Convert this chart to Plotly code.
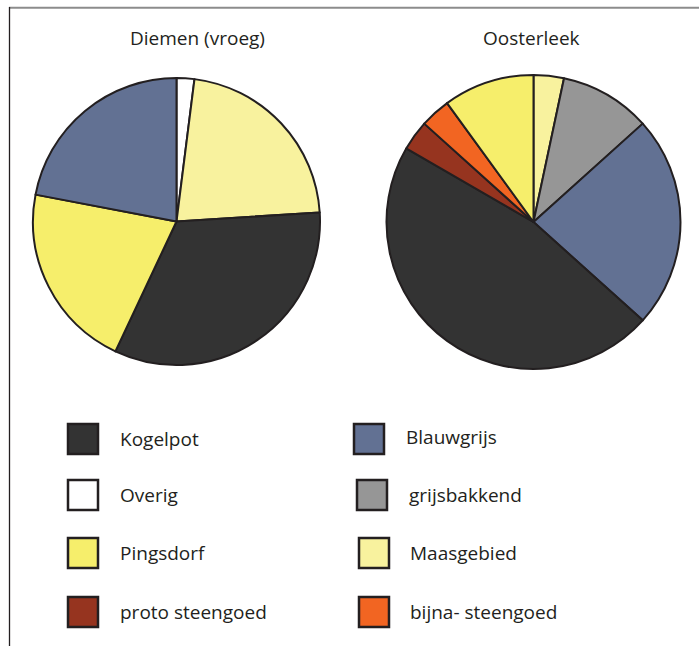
import plotly.graph_objects as go

# ---- data ----
diemen_labels = ["Overig", "Maasgebied", "Kogelpot", "Pingsdorf", "Blauwgrijs"]
diemen_values = [2, 22, 33, 21, 22]

oosterleek_labels = ["Maasgebied", "grijsbakkend", "Blauwgrijs", "Kogelpot",
                     "proto steengoed", "bijna- steengoed", "Pingsdorf"]
oosterleek_values = [3.33, 10.0, 23.33, 46.67, 3.33, 3.33, 10.0]

titles = ["Diemen (vroeg)", "Oosterleek"]

legend_left = ["Kogelpot", "Overig", "Pingsdorf", "proto steengoed"]
legend_right = ["Blauwgrijs", "grijsbakkend", "Maasgebied", "bijna- steengoed"]

colors = {
    "Kogelpot": "#333333",
    "Blauwgrijs": "#627193",
    "Overig": "#FFFFFF",
    "grijsbakkend": "#969696",
    "Pingsdorf": "#F6EE6B",
    "Maasgebied": "#F8F29E",
    "proto steengoed": "#96341F",
    "bijna- steengoed": "#F26522",
}

# ---- figure ----
W, H = 699, 646
OUT = "#231F20"
FONT = "Open Sans"
FS = 19


def px(x):
    return x / W


def py(y):
    return 1 - y / H


def pie_domain(cx, cy, r):
    return dict(x=[px(cx - r), px(cx + r)], y=[py(cy + r), py(cy - r)])


fig = go.Figure()
fig.add_trace(go.Pie(
    labels=diemen_labels, values=diemen_values, sort=False,
    direction="clockwise", rotation=0, textinfo="none",
    marker=dict(colors=[colors[l] for l in diemen_labels],
                line=dict(color=OUT, width=2)),
    domain=pie_domain(176.5, 221.5, 143.5), showlegend=False,
))
fig.add_trace(go.Pie(
    labels=oosterleek_labels, values=oosterleek_values, sort=False,
    direction="clockwise", rotation=0, textinfo="none",
    marker=dict(colors=[colors[l] for l in oosterleek_labels],
                line=dict(color=OUT, width=2)),
    domain=pie_domain(533.5, 222, 147), showlegend=False,
))

shapes = [
    dict(type="line", xref="paper", yref="paper", x0=px(9), x1=1.0, y0=py(7.7), y1=py(7.7),
         line=dict(color="#8C8C8C", width=2)),
    dict(type="line", xref="paper", yref="paper", x0=px(9.5), x1=px(9.5), y0=py(7), y1=0,
         line=dict(color=OUT, width=1.3)),
]
annotations = [
    dict(text=titles[0], x=px(197), y=py(38), xref="paper", yref="paper",
         showarrow=False, xanchor="center", yanchor="middle",
         font=dict(family=FONT, size=FS, color=OUT)),
    dict(text=titles[1], x=px(531), y=py(38), xref="paper", yref="paper",
         showarrow=False, xanchor="center", yanchor="middle",
         font=dict(family=FONT, size=FS, color=OUT)),
]

row_y = [439, 495, 553, 612]
left_sq_x = [68, 68, 68, 68]
left_lab_x = [118, 118, 118, 118]
right_sq_x = [354, 357, 359, 359]
right_lab_x = [404, 407, 408, 408]

for i, name in enumerate(legend_left):
    shapes.append(dict(type="rect", xref="paper", yref="paper",
                       x0=px(left_sq_x[i]), x1=px(left_sq_x[i] + 30),
                       y0=py(row_y[i] + 15), y1=py(row_y[i] - 15),
                       fillcolor=colors[name], line=dict(color=OUT, width=2.5)))
    annotations.append(dict(text=name, x=px(left_lab_x[i]), y=py(row_y[i]),
                            xref="paper", yref="paper", showarrow=False,
                            xanchor="left", yanchor="middle",
                            font=dict(family=FONT, size=FS, color=OUT)))
for i, name in enumerate(legend_right):
    shapes.append(dict(type="rect", xref="paper", yref="paper",
                       x0=px(right_sq_x[i]), x1=px(right_sq_x[i] + 30),
                       y0=py(row_y[i] + 15), y1=py(row_y[i] - 15),
                       fillcolor=colors[name], line=dict(color=OUT, width=2.5)))
    annotations.append(dict(text=name, x=px(right_lab_x[i]), y=py(row_y[i] - (2 if i == 0 else 0)),
                            xref="paper", yref="paper", showarrow=False,
                            xanchor="left", yanchor="middle",
                            font=dict(family=FONT, size=FS, color=OUT)))

fig.update_layout(
    width=W, height=H, margin=dict(l=0, r=0, t=0, b=0),
    paper_bgcolor="white", plot_bgcolor="white",
    shapes=shapes, annotations=annotations,
)

fig.write_html("out.html", config={"displayModeBar": False},
               post_script="document.body.style.margin='0px';")
